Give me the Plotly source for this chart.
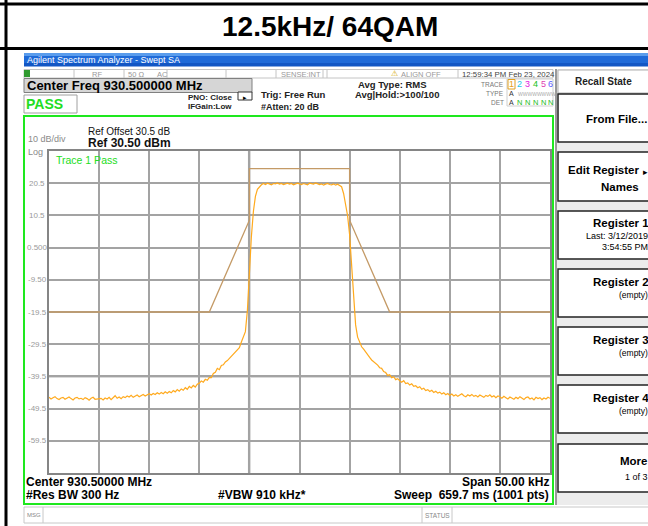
import numpy as np
import plotly.graph_objects as go

# ---------------- data ----------------
title_text = "12.5kHz/ 64QAM"
# sweep grid: 50 kHz span around 930.5 MHz, 0.2 kHz steps (251 points)
freq_offset_khz = np.linspace(-25.0, 25.0, 251)
trace_dbm = [
    # -25.0 .. -20.2
    -46.0, -46.5, -46.1, -45.8, -46.4, -46.7, -46.2, -46.0, -46.6, -46.3, -45.9, -46.4, -46.8,
    -46.2, -46.0, -46.5, -46.3, -46.7, -46.1, -46.4, -46.9, -46.3, -46.0, -46.6, -46.5,
    # -20.0 .. -15.2
    -46.6, -46.3, -46.8, -46.2, -46.5, -46.0, -46.7, -46.1, -45.5, -46.3, -45.9, -46.4, -45.8,
    -46.1, -45.6, -45.9, -45.4, -46.0, -45.7, -45.3, -45.8, -45.5, -45.1, -45.6, -45.2,
    # -15.0 .. -10.2
    -44.9, -45.3, -44.8, -45.1, -44.6, -45.0, -44.5, -44.9, -44.3, -44.7, -44.2, -44.6, -43.9,
    -44.3, -43.6, -44.1, -43.4, -43.8, -43.0, -43.5, -42.6, -43.1, -42.3, -42.8, -41.9,
    # -10.0 .. -5.2
    -41.6, -40.9, -41.3, -40.4, -40.7, -39.8, -39.9, -38.6, -38.2, -37.0, -37.4, -36.1, -35.9,
    -35.0, -34.6, -33.9, -33.4, -32.8, -32.0, -31.4, -30.6, -28.8, -27.4, -25.6, -19.0,
    # -5.0 .. -0.2
    -6.0, 4.0, 11.8, 16.4, 18.6, 19.5, 20.0, 20.4, 20.1, 20.5, 20.2, 20.0, 20.4,
    20.3, 20.6, 20.2, 20.4, 20.1, 20.3, 20.5, 20.2, 20.4, 20.0, 20.3, 20.5,
    # 0.0 .. 4.8
    20.3, 20.1, 20.4, 20.2, 20.0, 20.5, 20.3, 20.2, 20.6, 20.4, 20.1, 20.3, 19.9,
    20.2, 20.4, 20.1, 20.0, 20.3, 19.9, 20.2, 19.9, 19.4, 17.3, 14.2, 10.4,
    # 5.0 .. 9.8
    4.5, -4.5, -16.0, -23.5, -27.3, -28.8, -30.3, -31.0, -31.9, -33.1, -33.6, -34.4, -34.9,
    -35.6, -36.0, -36.8, -37.0, -38.0, -38.3, -39.2, -39.0, -39.9, -39.6, -40.5, -40.2,
    # 10.0 .. 14.8
    -40.9, -41.3, -40.8, -41.7, -41.5, -42.2, -41.8, -42.6, -42.4, -43.0, -42.7, -43.5, -43.2,
    -43.9, -43.6, -44.2, -43.8, -44.5, -44.1, -44.7, -44.4, -45.0, -44.6, -45.2, -44.8,
    # 15.0 .. 19.8
    -45.4, -45.0, -45.6, -45.2, -45.7, -45.3, -44.9, -45.5, -45.8, -45.2, -45.6, -45.1, -45.7,
    -45.4, -45.9, -45.3, -45.6, -46.0, -45.4, -45.7, -45.2, -45.9, -45.5, -46.1, -45.6,
    # 20.0 .. 25.0
    -45.8, -46.3, -45.7, -46.1, -46.5, -45.9, -46.2, -46.6, -46.0, -46.4, -45.8, -46.3, -46.7,
    -46.1, -45.9, -46.5, -46.2, -46.8, -46.0, -46.4, -46.1, -46.7, -46.2, -46.5, -46.0, -46.3,
]
mask_freq_khz = [-25, -9, -5, -5, 5, 5, 9, 25]
mask_dbm = [-19.5, -19.5, 9.0, 25.0, 25.0, 9.0, -19.5, -19.5]
x_range_khz = [-25, 25]
y_range_dbm = [-69.5, 30.5]
xgrid_vals = [-20, -15, -10, -5, 0, 5, 10, 15, 20]
ytick_vals = [20.5, 10.5, 0.5, -9.5, -19.5, -29.5, -39.5, -49.5, -59.5]
ytick_text = ["20.5", "10.5", "0.500", "-9.50", "-19.5", "-29.5", "-39.5", "-49.5", "-59.5"]
display_line_khz = -5
display_line_dbm = -39.5

# ---------------- layout helpers (pixel -> paper) ----------------
W, H = 648, 526
L, R, T, B = 49, 550, 151, 473
FONT = "Liberation Sans, Arial, sans-serif"


def px(x):
    return (x - L) / (R - L)


def py(y):
    return (B - y) / (B - T)


shapes = []
annotations = []


def rect(x0, y0, x1, y1, fill="rgba(0,0,0,0)", line="rgba(0,0,0,0)", lw=1, layer="above"):
    shapes.append(dict(type="rect", xref="paper", yref="paper",
                       x0=px(x0), x1=px(x1), y0=py(y0), y1=py(y1),
                       fillcolor=fill, line=dict(color=line, width=lw), layer=layer))


def seg(x0, y0, x1, y1, color, lw=1, layer="above"):
    shapes.append(dict(type="line", xref="paper", yref="paper",
                       x0=px(x0), x1=px(x1), y0=py(y0), y1=py(y1),
                       line=dict(color=color, width=lw), layer=layer))


def txt(x, y, s, size, color="black", bold=False, xanchor="left", family=FONT):
    annotations.append(dict(x=px(x), y=py(y), xref="paper", yref="paper",
                            text=("<b>%s</b>" % s) if bold else s, showarrow=False,
                            xanchor=xanchor, yanchor="middle", borderpad=0,
                            font=dict(size=size, color=color, family=family)))


# ---------------- outer document frame ----------------
seg(0, 4, 650, 4, "black", 3)
seg(0, 48.5, 650, 48.5, "black", 3)
seg(6, 0, 6, 530, "black", 3)
txt(330, 27, title_text, 28, bold=True, xanchor="center")

# ---------------- analyzer window ----------------
# title bar
rect(24, 53, 650, 56, fill="#5a9cec")
rect(24, 56, 650, 63, fill="#1f6ad8")
rect(24, 63, 650, 66.5, fill="#1256c4")
txt(26, 59.5, "Agilent Spectrum Analyzer - Swept SA", 9, color="white")

# status row
rect(24, 69.5, 553, 78, fill="white", line="#c4c4c4", lw=1)
rect(24, 70, 30, 77, fill="#2f9a2f")
for xd in [74, 124, 167, 226, 276, 323, 327, 458]:
    seg(xd, 69.5, xd, 78, "#c4c4c4", 1)
txt(97, 74, "RF", 7.5, color="#999999", xanchor="center")
txt(136, 74, "50 Ω", 7.5, color="#999999", xanchor="center")
txt(162, 74, "AC", 7.5, color="#999999", xanchor="center")
txt(322, 74, "SENSE:INT", 7.5, color="#999999", xanchor="right")
txt(394, 73.5, "⚠", 8, color="#d4a800", xanchor="center", family="DejaVu Sans")
txt(400, 74, "ALIGN OFF", 7.5, color="#999999")
txt(461, 74, "12:59:34 PM Feb 23, 2024", 7.8, color="#444444")

# center freq box / PASS box
rect(24, 78.5, 252, 92.5, fill="#d6d6d6", line="#808080", lw=1)
txt(26, 85.5, "Center Freq 930.500000 MHz", 13, bold=True)
rect(24, 95, 77, 113, fill="white", line="#a0a0a0", lw=1)
txt(25, 104, "PASS", 14, color="#22dd22", bold=True)

txt(187, 97, "PNO: Close", 8, bold=True, color="#222222")
txt(187, 107, "IFGain:Low", 8, bold=True, color="#222222")
rect(238, 92, 252, 100, fill="white", line="#333333", lw=1)
txt(245, 97.5, "▸", 7, xanchor="center", family="DejaVu Sans")
txt(260, 95, "Trig: Free Run", 9.5, bold=True, color="#222222")
txt(260, 107, "#Atten: 20 dB", 9, bold=True, color="#222222")
txt(392, 85, "Avg Type: RMS", 9.5, bold=True, color="#222222", xanchor="center")
txt(397, 94.5, "Avg|Hold:>100/100", 9.5, bold=True, color="#222222", xanchor="center")

# trace table
txt(505, 84, "TRACE", 6.5, color="#777777", xanchor="right")
txt(505, 94, "TYPE", 6.5, color="#777777", xanchor="right")
txt(505, 102.5, "DET", 6.5, color="#777777", xanchor="right")
rect(507, 79, 553, 106, fill="white", line="#cfcfcf", lw=1)
rect(508, 79.5, 515, 89, line="#e0a020", lw=1)
trace_cols = ["#e8a020", "#20c8e8", "#e020e0", "#20c020", "#e040b0", "#5a5aff"]
for k, (xc, col) in enumerate(zip([511.5, 519, 527, 535, 543, 550], trace_cols)):
    txt(xc, 84.5, str(k + 1), 9, color=col, xanchor="center")
txt(511.5, 94, "A", 7, color="#333333", xanchor="center")
txt(517, 94, "WWWWWWWW", 5, color="#aaaaaa")
txt(511.5, 102.5, "A", 7, color="#333333", xanchor="center")
for xc in [519, 527, 535, 543, 550]:
    txt(xc, 102.5, "N", 7.5, color="#22bb22", xanchor="center")

# green screen border
rect(24, 116, 553, 504, line="#1ee81e", lw=2)

# header texts in screen
txt(87, 131, "Ref Offset 30.5 dB", 10, color="#111111")
txt(87, 142.5, "Ref 30.50 dBm", 12, bold=True, color="#111111")
txt(27, 139.5, "10 dB/div", 9, color="#8a8a8a")
txt(27, 151.5, "Log", 9, color="#8a8a8a")
txt(55, 159.5, "Trace 1 Pass", 10.5, color="#22dd22")

# footer texts
txt(25, 482, "Center 930.50000 MHz", 12, bold=True)
txt(25, 495, "#Res BW 300 Hz", 12, bold=True)
txt(217, 495, "#VBW 910 kHz*", 12, bold=True)
txt(550, 482, "Span 50.00 kHz", 12, bold=True, xanchor="right")
txt(550, 495, "Sweep  659.7 ms (1001 pts)", 12, bold=True, xanchor="right")

# message bar
rect(24, 507, 652, 523, fill="white", line="#c8c8c8", lw=1)
seg(43, 507, 43, 523, "#c8c8c8", 1)
seg(422, 507, 422, 523, "#c8c8c8", 1)
seg(452, 507, 452, 523, "#c8c8c8", 1)
txt(26, 515, "MSG", 6, color="#888888")
txt(437, 515, "STATUS", 6.5, color="#888888", xanchor="center")

# softkey panel
rect(556, 69, 652, 505, fill="#ececec")
seg(556, 69, 556, 505, "#9a9a9a", 2)
rect(558, 70, 652, 93, fill="white", line="#b0b0b0", lw=1)
txt(603, 81.5, "Recall State", 10, bold=True, color="#222222", xanchor="center")
for (y0, y1) in [(94, 142), (152, 201), (211, 259), (269, 317), (327, 375), (385, 433), (444, 492)]:
    rect(558, y0, 653, y1, fill="white", line="#222222", lw=1.5)
txt(648, 119, "From File...", 11.5, bold=True, xanchor="right")
txt(640, 169.5, "Edit Register", 11.5, bold=True, xanchor="right")
txt(645, 171.5, "▸", 9, xanchor="center", family="DejaVu Sans")
txt(640, 186.5, "Names", 11.5, bold=True, xanchor="right")
txt(650, 223, "Register 1", 11.5, bold=True, xanchor="right")
txt(649, 236, "Last: 3/12/2019", 9, xanchor="right")
txt(649, 247, "3:54:55 PM", 9, xanchor="right")
for (yt, name) in [(282, "Register 2"), (340, "Register 3"), (398, "Register 4")]:
    txt(650, yt, name, 11.5, bold=True, xanchor="right")
    txt(649, yt + 12.5, "(empty)", 8.5, xanchor="right")
txt(648, 461, "More", 11.5, bold=True, xanchor="right")
txt(649, 477, "1 of 3", 9, xanchor="right")

# y tick labels (placed on the data y scale)
for v, s in zip(ytick_vals, ytick_text):
    annotations.append(dict(x=px(37), y=v, xref="paper", yref="y", text=s, showarrow=False,
                            xanchor="center", yanchor="middle", borderpad=0,
                            font=dict(size=8, color="#9a9a9a", family=FONT)))

# display lines (light, thick)
shapes.append(dict(type="line", xref="x", yref="paper", x0=display_line_khz, x1=display_line_khz,
                   y0=0, y1=1, line=dict(color="#d9d9d9", width=3), layer="between"))
shapes.append(dict(type="line", xref="paper", yref="y", x0=0, x1=1, y0=display_line_dbm,
                   y1=display_line_dbm, line=dict(color="#d9d9d9", width=3), layer="between"))

# ---------------- figure ----------------
fig = go.Figure()
fig.add_trace(go.Scatter(x=mask_freq_khz, y=mask_dbm, mode="lines",
                         line=dict(color="#c49a66", width=1.3), hoverinfo="skip"))
fig.add_trace(go.Scatter(x=freq_offset_khz, y=trace_dbm, mode="lines",
                         line=dict(color="#ffaa1e", width=1.2), hoverinfo="skip"))

fig.update_layout(
    width=W, height=H,
    margin=dict(l=L, r=W - R, t=T, b=H - B, pad=0),
    paper_bgcolor="white", plot_bgcolor="white",
    showlegend=False,
    shapes=shapes, annotations=annotations,
    font=dict(family=FONT),
)
fig.update_xaxes(range=x_range_khz, tickvals=xgrid_vals, showticklabels=False, ticks="",
                 showgrid=True, gridcolor="#a3a3a3", gridwidth=1.5, zeroline=False,
                 showline=True, mirror=True, linecolor="#858585", linewidth=2, fixedrange=True)
fig.update_yaxes(range=y_range_dbm, tickvals=ytick_vals, showticklabels=False, ticks="",
                 showgrid=True, gridcolor="#a3a3a3", gridwidth=1.5, zeroline=False,
                 showline=True, mirror=True, linecolor="#858585", linewidth=2, fixedrange=True)

fig.write_html("out.html", config={"displayModeBar": False},
               post_script="document.body.style.margin='0';")
